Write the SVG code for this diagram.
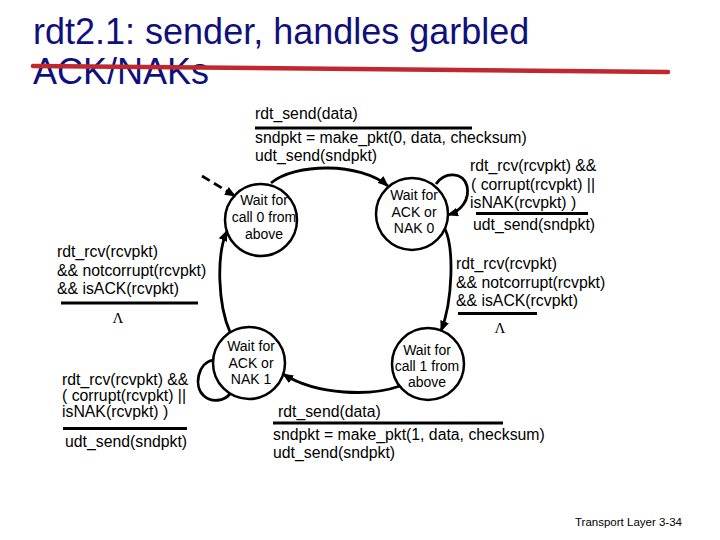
<svg xmlns="http://www.w3.org/2000/svg" width="720" height="540" viewBox="0 0 720 540">
<defs>
<marker id="ah" markerWidth="11" markerHeight="9" refX="10" refY="4.5" orient="auto" markerUnits="userSpaceOnUse">
<path d="M0,0 L11,4.5 L0,9 z" fill="#000"/>
</marker>
<style>
.t{font-family:"Liberation Sans",Arial,sans-serif;font-size:15.8px;fill:#000}
.c{font-family:"Liberation Sans",Arial,sans-serif;font-size:14px;fill:#000;text-anchor:middle}
.ttl{font-family:"Liberation Sans",Arial,sans-serif;font-size:36px;fill:#10107c}
.st{fill:#fff;stroke:#000;stroke-width:2.5}
.e{fill:none;stroke:#000;stroke-width:2.8}
.bar{stroke:#000;stroke-width:3}
.lam{font-family:"Liberation Serif","Times New Roman",serif;font-size:15px;fill:#000;text-anchor:middle}
</style>
</defs>
<rect width="720" height="540" fill="#fff"/>
<g id="title">
<text class="ttl" x="33" y="44">rdt2.1: sender, handles garbled</text>
<text class="ttl" x="33" y="84">ACK/NAKs</text>
<path d="M33,66 Q350,68 668,72" fill="none" stroke="#c0282d" stroke-width="4.5" stroke-linecap="round"/>
</g>
<g id="s0">
<circle class="st" cx="261" cy="220" r="36"/>
<text class="c" x="264" y="205">Wait for</text>
<text class="c" x="264" y="222">call 0 from</text>
<text class="c" x="264" y="239">above</text>
</g>
<g id="s1">
<circle class="st" cx="412" cy="214" r="36"/>
<text class="c" x="414" y="200">Wait for</text>
<text class="c" x="414" y="216.5">ACK or</text>
<text class="c" x="414" y="233">NAK 0</text>
</g>
<g id="s2">
<circle class="st" cx="428" cy="364" r="36"/>
<text class="c" x="427" y="355">Wait for</text>
<text class="c" x="427" y="371">call 1 from</text>
<text class="c" x="427" y="387">above</text>
</g>
<g id="s3">
<circle class="st" cx="249" cy="363" r="36"/>
<text class="c" x="251" y="351">Wait for</text>
<text class="c" x="251" y="367.5">ACK or</text>
<text class="c" x="251" y="384">NAK 1</text>
</g>
<g id="connectors">
<path class="e" d="M202,176 L235,196" stroke-dasharray="9,5" stroke-width="3.5" marker-end="url(#ah)"/>
<path class="e" d="M271,183 C295,163 360,162 388,186" marker-end="url(#ah)"/>
<path class="e" d="M436,184 C445,171 463,172 467,186 C470,200 461,211 448,215" marker-end="url(#ah)"/>
<path class="e" d="M445,229 C454,248 453,300 441,331" marker-end="url(#ah)"/>
<path class="e" d="M400,386 C372,396 318,396 283,374" marker-end="url(#ah)"/>
<path class="e" d="M213,360 C198,363 193,386 204,396 C212,403 224,401 230,394"/>
<path class="e" d="M230,332 C218,305 216,255 227,231" marker-end="url(#ah)"/>
</g>
<g id="labels">
<text class="t" x="255" y="119">rdt_send(data)</text>
<line class="bar" x1="255" y1="128" x2="472" y2="128"/>
<text class="t" x="255" y="143">sndpkt = make_pkt(0, data, checksum)</text>
<text class="t" x="255" y="161">udt_send(sndpkt)</text>

<text class="t" x="470" y="171">rdt_rcv(rcvpkt) &amp;&amp;</text>
<text class="t" x="471" y="189.5">( corrupt(rcvpkt) ||</text>
<text class="t" x="470" y="208">isNAK(rcvpkt) )</text>
<line class="bar" x1="476" y1="213.5" x2="588" y2="213.5"/>
<text class="t" x="473" y="230">udt_send(sndpkt)</text>

<text class="t" x="456" y="269">rdt_rcv(rcvpkt)</text>
<text class="t" x="456" y="287.5">&amp;&amp; notcorrupt(rcvpkt)</text>
<text class="t" x="456" y="306">&amp;&amp; isACK(rcvpkt)</text>
<line class="bar" x1="458" y1="313.5" x2="537" y2="313.5"/>
<text class="lam" x="500" y="333">Λ</text>

<text class="t" x="57" y="257">rdt_rcv(rcvpkt)</text>
<text class="t" x="57" y="275.5">&amp;&amp; notcorrupt(rcvpkt)</text>
<text class="t" x="57" y="294">&amp;&amp; isACK(rcvpkt)</text>
<line class="bar" x1="61" y1="303" x2="198" y2="303"/>
<text class="lam" x="118" y="323">Λ</text>

<text class="t" x="62" y="385">rdt_rcv(rcvpkt) &amp;&amp;</text>
<text class="t" x="62" y="401">( corrupt(rcvpkt) ||</text>
<text class="t" x="62" y="417">isNAK(rcvpkt) )</text>
<line class="bar" x1="63" y1="428.5" x2="187" y2="428.5"/>
<text class="t" x="65" y="446.5">udt_send(sndpkt)</text>

<text class="t" x="278" y="417">rdt_send(data)</text>
<line class="bar" x1="273" y1="423" x2="503" y2="423"/>
<text class="t" x="273" y="440">sndpkt = make_pkt(1, data, checksum)</text>
<text class="t" x="273" y="457.5">udt_send(sndpkt)</text>
</g>
<g id="footer">
<text x="575" y="526" style="font-family:'Liberation Sans',Arial,sans-serif;font-size:11.5px;fill:#000">Transport Layer 3-34</text>
</g>
</svg>
